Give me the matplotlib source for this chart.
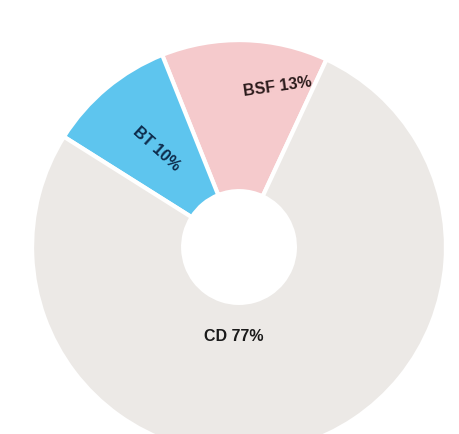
import matplotlib
matplotlib.use('Agg')
import matplotlib.pyplot as plt
import numpy as np

# Share of each group (percent)
groups = ['BSF', 'BT', 'CD']
shares = [13, 10, 77]
colors = ['#f5cacc', '#5ec5ee', '#ece9e6']

# label placement / style
label_radius = [0.80, 0.62, 0.43]
label_shift = [-12, 0, -20]     # degrees, moves label off the wedge middle
label_rotation = [8, -42, 0]
label_colors = ['#2a1a1a', '#0d2a4a', '#1a1a1a']

fig = plt.figure(figsize=(4.59, 4.35), dpi=100)
ax = fig.add_axes([0, 0, 1, 1])

wedges, _ = ax.pie(shares, colors=colors, startangle=65, counterclock=True,
                   radius=1.0,
                   wedgeprops=dict(width=0.73, edgecolor='white', linewidth=3))

for w, g, s, r, sh, rot, c in zip(wedges, groups, shares, label_radius,
                                  label_shift, label_rotation, label_colors):
    mid = np.deg2rad((w.theta1 + w.theta2) / 2.0 + sh)
    ax.text(r * np.cos(mid), r * np.sin(mid), '%s %d%%' % (g, s),
            ha='center', va='center', rotation=rot, fontsize=11.5,
            family='Liberation Sans', weight='bold', color=c)

ax.set_xlim(-1.155, 1.063)
ax.set_ylim(-0.903, 1.198)
ax.set_aspect('equal')
ax.axis('off')

fig.savefig('out.png', dpi=100, facecolor='white')
